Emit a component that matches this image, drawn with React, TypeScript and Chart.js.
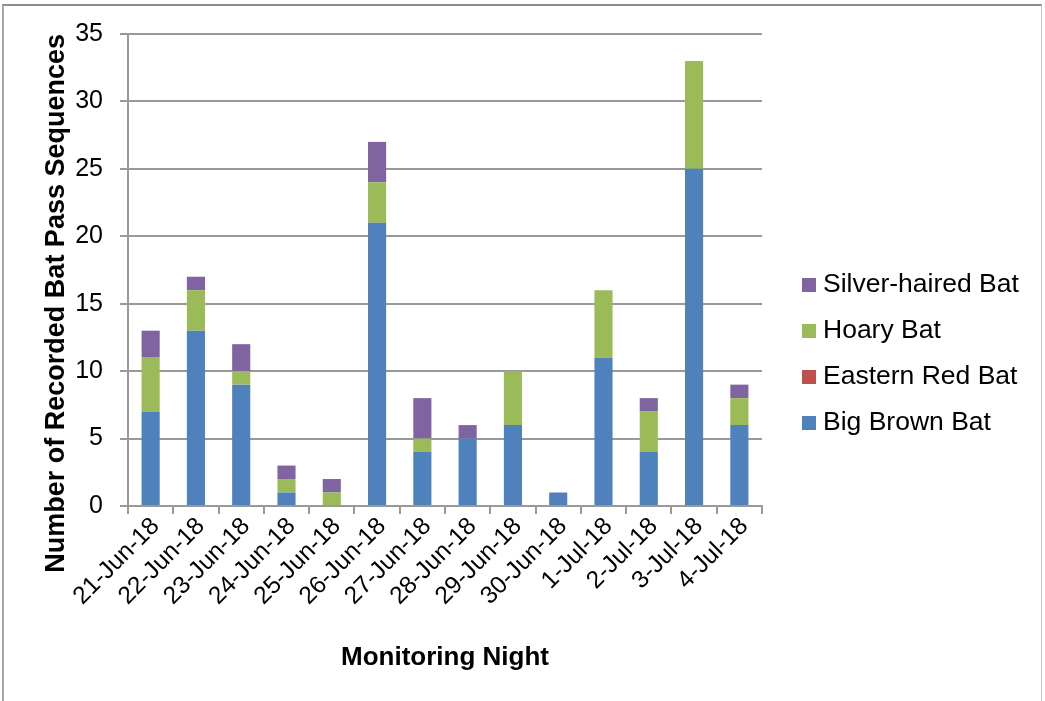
import React, { useEffect, useRef } from "react";
import { Chart, registerables } from "chart.js";

Chart.register(...registerables);

const categories = [
  "21-Jun-18", "22-Jun-18", "23-Jun-18", "24-Jun-18", "25-Jun-18", "26-Jun-18", "27-Jun-18",
  "28-Jun-18", "29-Jun-18", "30-Jun-18", "1-Jul-18", "2-Jul-18", "3-Jul-18", "4-Jul-18",
];
const bigBrownBat = [7, 13, 9, 1, 0, 21, 4, 5, 6, 1, 11, 4, 25, 6];
const easternRedBat = [0, 0, 0, 0, 0, 0, 0, 0, 0, 0, 0, 0, 0, 0];
const hoaryBat = [4, 3, 1, 1, 1, 3, 1, 0, 4, 0, 5, 3, 8, 2];
const silverHairedBat = [2, 1, 2, 1, 1, 3, 3, 1, 0, 0, 0, 1, 0, 1];

const yMin = 0;
const yMax = 35;
const yStep = 5;

const FONT = '"Liberation Sans", Arial, sans-serif';

const sideLegend = {
  id: "sideLegend",
  afterDraw(chart: any) {
    const { ctx, chartArea } = chart;
    const ds = chart.data.datasets.slice().reverse();
    const x = chartArea.right + 40;
    const y0 = chartArea.top + 251;
    ctx.save();
    ctx.font = `26.5px ${FONT}`;
    ctx.textBaseline = "middle";
    ctx.textAlign = "left";
    ds.forEach((d: any, i: number) => {
      const y = y0 + i * 46;
      ctx.fillStyle = d.backgroundColor;
      ctx.fillRect(x, y - 7, 14, 14);
      ctx.fillStyle = "#000";
      ctx.fillText(d.label, x + 21, y);
    });
    ctx.restore();
  },
};

export default function App() {
  const ref = useRef<HTMLCanvasElement | null>(null);

  useEffect(() => {
    if (!ref.current) return;
    const chart = new Chart(ref.current, {
      type: "bar",
      data: {
        labels: categories,
        datasets: [
          { label: "Big Brown Bat", data: bigBrownBat, backgroundColor: "#4F81BD" },
          { label: "Eastern Red Bat", data: easternRedBat, backgroundColor: "#C0504D" },
          { label: "Hoary Bat", data: hoaryBat, backgroundColor: "#9BBB59" },
          { label: "Silver-haired Bat", data: silverHairedBat, backgroundColor: "#8064A2" },
        ],
      },
      options: {
        animation: false,
        responsive: false,
        maintainAspectRatio: false,
        layout: { padding: { top: 34, right: 283, bottom: 0, left: 0 } },
        datasets: {
          bar: { barPercentage: 0.4, categoryPercentage: 1.0, borderWidth: 0 },
        },
        plugins: {
          legend: { display: false },
          tooltip: { enabled: false },
        },
        scales: {
          x: {
            stacked: true,
            offset: true,
            grid: {
              display: true,
              offset: true,
              drawOnChartArea: false,
              drawTicks: true,
              tickLength: 8,
              color: "#999999",
              lineWidth: 2,
            },
            border: { display: true, color: "#999999", width: 2 },
            ticks: {
              autoSkip: false,
              minRotation: 45,
              maxRotation: 45,
              padding: -2,
              labelOffset: 5,
              color: "#000",
              font: { family: FONT, size: 24.5 },
            },
            title: {
              display: true,
              text: "Monitoring Night",
              color: "#000",
              font: { family: FONT, size: 26, weight: "bold" },
              padding: { top: 0, bottom: 28 },
            },
            afterFit(scale: any) {
              scale.height = 195;
            },
          },
          y: {
            stacked: true,
            min: yMin,
            max: yMax,
            ticks: {
              stepSize: yStep,
              padding: 17,
              color: "#000",
              font: { family: FONT, size: 25 },
            },
            grid: {
              color: "#999999",
              lineWidth: 2,
              drawTicks: true,
              tickLength: 8,
            },
            border: { display: true, color: "#999999", width: 2 },
            title: {
              display: true,
              text: "Number of Recorded Bat Pass Sequences",
              align: "end",
              color: "#000",
              font: { family: FONT, size: 27, weight: "bold" },
              padding: { top: 40, bottom: 0 },
            },
            afterFit(scale: any) {
              scale.width = 128;
            },
          },
        },
      } as any,
      plugins: [sideLegend],
    });
    return () => chart.destroy();
  }, []);

  return (
    <div
      style={{
        position: "fixed",
        left: 0,
        top: 0,
        width: 1045,
        height: 701,
        overflow: "hidden",
        background: "#fff",
      }}
    >
      <div
        style={{
          position: "absolute",
          left: 2,
          top: 4,
          width: 1040,
          height: 720,
          borderLeft: "2px solid #a8a8a8",
          borderTop: "2px solid #8c8c8c",
          borderRight: "1px solid #c8c8c8",
          boxSizing: "border-box",
        }}
      />
      <canvas
        ref={ref}
        width={1045}
        height={701}
        style={{ position: "absolute", left: 0, top: 0, width: 1045, height: 701 }}
      />
    </div>
  );
}
